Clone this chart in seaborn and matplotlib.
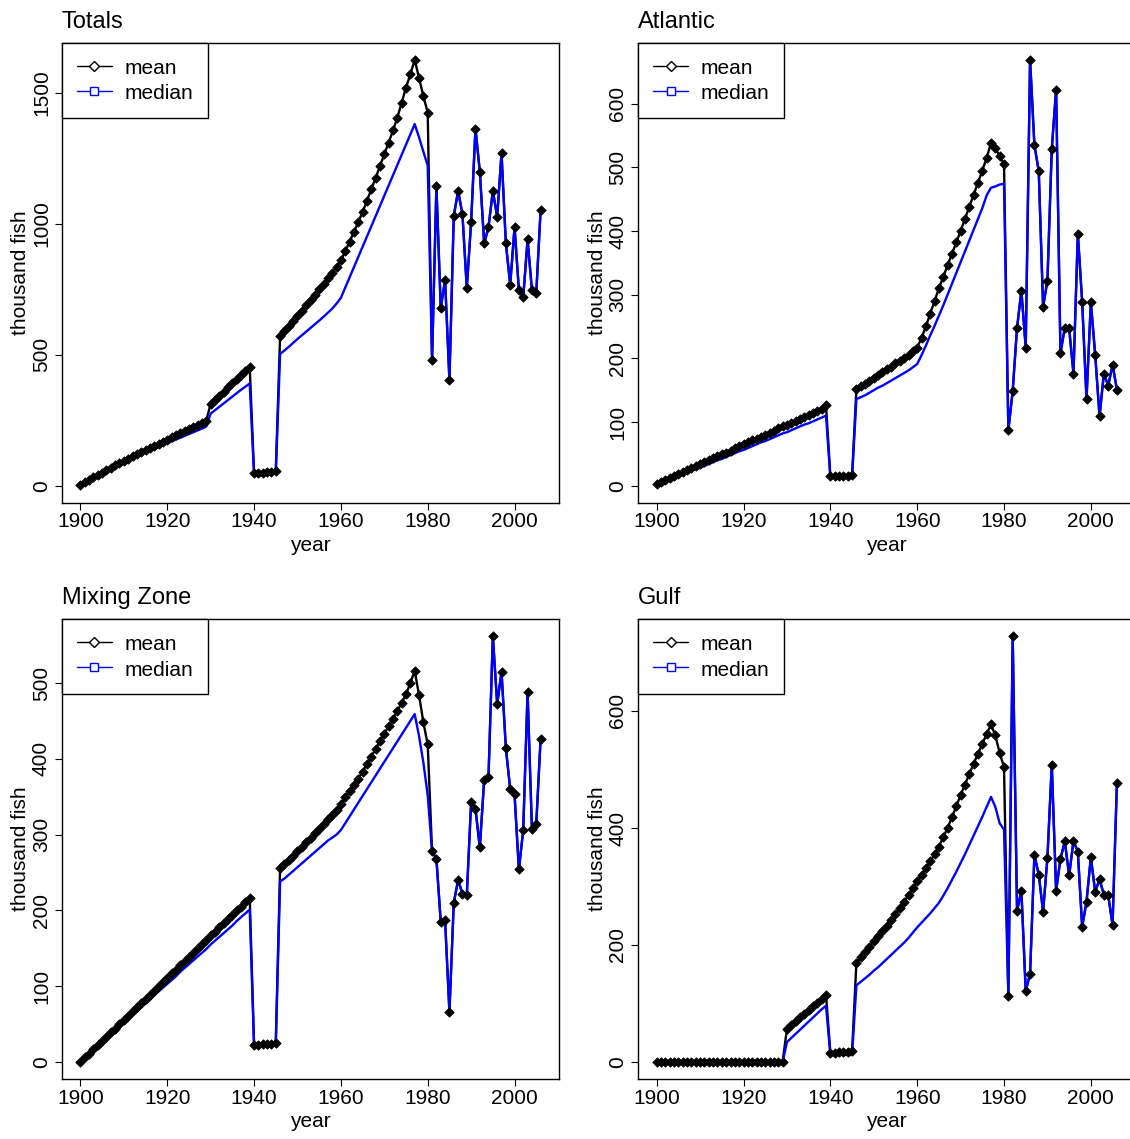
import matplotlib
matplotlib.use("Agg")
import matplotlib.pyplot as plt
from matplotlib.lines import Line2D
from matplotlib.ticker import MultipleLocator
import seaborn as sns

# years 1900-2006, one value per year
years = list(range(1900, 2007))

# 1900-1980 values differ between mean and median, 1981-2006 they coincide
totals_mean_early = [3, 13, 23, 32, 41, 50, 59, 68, 77, 86, 95, 103, 112, 120, 128,
                     136, 144, 152, 160, 168, 176, 184, 192, 200, 208, 216, 224, 232, 240, 248,
                     313, 328, 343, 359, 375, 391, 407, 423, 438, 453,
                     48, 50, 50, 51, 52, 55,
                     572, 591, 610, 629, 648, 668, 688, 708, 728, 749, 770, 791, 812, 835, 860,
                     895, 931, 968, 1006, 1045, 1088, 1131, 1175, 1220, 1265, 1310, 1356, 1405, 1462,
                     1520, 1570, 1626, 1557, 1487, 1424]
totals_median_early = [0, 11, 21, 30, 39, 48, 56, 64, 72, 80, 88, 96, 104, 112, 120,
                       127, 134, 141, 148, 155, 162, 169, 176, 183, 190, 197, 204, 211, 218, 226,
                       275, 288, 301, 314, 327, 340, 353, 366, 378, 390,
                       42, 43, 43, 44, 44, 46,
                       503, 516, 530, 545, 560, 574, 588, 602, 616, 630, 645, 660, 676, 695, 717,
                       756, 795, 834, 873, 912, 951, 990, 1029, 1068, 1107, 1146, 1185, 1224, 1263,
                       1302, 1341, 1380, 1330, 1275, 1222]
totals_late = [479, 1143, 679, 785, 403, 1030, 1125, 1036, 754, 1007, 1363, 1199, 925,
               987, 1125, 1026, 1269, 925, 767, 986, 748, 719, 940, 748, 735, 1051]

atlantic_mean_early = [3, 6, 9, 12, 15, 18, 21, 24, 28, 31, 34, 37, 40, 43, 46, 49, 52, 55, 59, 62,
                       65, 68, 71, 74, 77, 80, 83, 86, 90, 93, 96, 99, 102, 105, 108, 111, 114, 117, 121, 126,
                       15, 15, 15, 15, 15, 16,
                       152, 156, 160, 165, 169, 174, 178, 183, 187, 192, 196, 201, 206, 211, 217,
                       232, 250, 270, 290, 310, 328, 346, 364, 382, 400, 419, 438, 457, 476,
                       495, 515, 538, 530, 518, 505]
atlantic_median_early = [0, 3, 6, 9, 12, 14, 17, 20, 23, 26, 28, 31, 34, 37, 40, 42, 45, 48, 51, 54,
                         56, 59, 62, 65, 68, 70, 73, 76, 79, 82, 84, 87, 90, 93, 96, 98, 101, 104, 107, 110,
                         13, 13, 13, 13, 13, 13,
                         136, 139, 142, 146, 150, 154, 157, 161, 165, 169, 173, 177, 181, 186, 191,
                         205, 220, 236, 251, 267, 283, 300, 317, 334, 351, 368, 385, 402, 419,
                         436, 456, 468, 470, 473, 474]
atlantic_late = [87, 149, 248, 306, 217, 669, 535, 494, 281, 322, 529, 622, 208,
                 248, 247, 176, 396, 289, 136, 288, 206, 109, 176, 157, 190, 151]

mixing_mean_early = [0, 6, 11, 17, 22, 28, 33, 39, 44, 50, 56, 61, 67, 72, 78, 83, 89, 94, 100, 106,
                     111, 117, 122, 128, 133, 139, 144, 150, 155, 161, 167, 172, 178, 183, 189, 194, 200, 205, 211, 217,
                     23, 23, 24, 24, 24, 25,
                     256, 261, 267, 272, 278, 284, 290, 296, 302, 308, 314, 320, 326, 333, 341,
                     349, 357, 365, 374, 383, 393, 403, 413, 423, 433, 443, 453, 463, 474,
                     485, 500, 516, 484, 448, 419]
mixing_median_early = [0, 5, 10, 15, 21, 26, 31, 36, 41, 46, 52, 57, 62, 67, 72, 77, 82, 88, 93, 98,
                       103, 108, 113, 119, 124, 129, 134, 139, 144, 149, 155, 160, 165, 170, 175, 180, 186, 191, 196, 201,
                       21, 21, 22, 22, 22, 23,
                       238, 242, 247, 252, 257, 262, 267, 272, 277, 282, 287, 292, 296, 300, 306,
                       315, 324, 333, 342, 351, 360, 369, 378, 387, 396, 405, 414, 423, 432,
                       441, 450, 459, 430, 395, 352]
mixing_late = [278, 268, 185, 187, 66, 210, 240, 222, 220, 343, 334, 283, 372,
               376, 562, 472, 515, 414, 360, 353, 254, 306, 488, 308, 314, 426]

gulf_mean_early = [0] * 30 + [57, 63, 70, 76, 82, 89, 95, 101, 107, 114,
                              16, 16, 17, 17, 17, 18,
                              170, 179, 188, 197, 206, 215, 224, 233, 243, 253, 263, 274, 285, 297, 309,
                              320, 331, 343, 355, 368, 384, 400, 418, 437, 456, 474, 492, 510, 527,
                              544, 560, 577, 558, 528, 504]
gulf_median_early = [0] * 30 + [34, 41, 48, 55, 62, 69, 76, 83, 90, 96,
                                12, 12, 12, 12, 12, 12,
                                131, 137, 143, 149, 156, 162, 169, 176, 183, 190, 197, 204, 212, 221, 230,
                                238, 246, 254, 263, 272, 284, 297, 311, 325, 340, 355, 371, 387, 403,
                                419, 436, 453, 436, 408, 397]
gulf_late = [113, 728, 258, 293, 121, 151, 354, 320, 257, 349, 508, 293, 347,
             377, 319, 378, 359, 231, 274, 350, 291, 312, 286, 285, 234, 476]

panels = [
    ("Totals", totals_mean_early + totals_late, totals_median_early + totals_late, 500),
    ("Atlantic", atlantic_mean_early + atlantic_late, atlantic_median_early + atlantic_late, 100),
    ("Mixing Zone", mixing_mean_early + mixing_late, mixing_median_early + mixing_late, 100),
    ("Gulf", gulf_mean_early + gulf_late, gulf_median_early + gulf_late, 200),
]

sns.set_style("ticks")
plt.rcParams["font.family"] = ["Liberation Sans", "DejaVu Sans"]
plt.rcParams["text.color"] = "black"
plt.rcParams["axes.labelcolor"] = "black"
plt.rcParams["axes.titlecolor"] = "black"

W, H = 1130, 1139
fig = plt.figure(figsize=(W / 100, H / 100), dpi=100)

# axes boxes in pixels: left, top
boxes = [(62, 42.7), (638.3, 42.7), (62, 619), (638.3, 619)]
bw, bh = 497, 460


def draw_panel(ax, title, mean, median, step):
    sns.lineplot(x=years, y=mean, color="black", linewidth=1.7, ax=ax, zorder=2)
    sns.lineplot(x=years, y=median, color="blue", linewidth=1.7, ax=ax, zorder=3)
    sns.scatterplot(x=years, y=mean, marker="D", color="black", s=22,
                    edgecolor="black", linewidth=0.7, ax=ax, zorder=4)
    ax.margins(x=0.04, y=0.04)
    ax.yaxis.set_major_locator(MultipleLocator(step))
    ax.xaxis.set_major_locator(MultipleLocator(20))
    for sp in ax.spines.values():
        sp.set_visible(True)
        sp.set_linewidth(1.0)
        sp.set_color("black")
    ax.tick_params(length=5, width=0.8, labelsize=15, colors="black")
    ax.tick_params(axis="x", pad=2)
    ax.tick_params(axis="y", labelrotation=90, pad=3)
    for lab in ax.get_yticklabels():
        lab.set_verticalalignment("center")
    ax.set_xlabel("year", fontsize=15, labelpad=3)
    ax.set_ylabel("thousand fish", fontsize=15, labelpad=1)
    ax.set_title(title, loc="left", fontsize=17, pad=10.5)

    handles = [
        Line2D([], [], color="black", lw=1, marker="D", markersize=5,
               markerfacecolor="white", markeredgecolor="black"),
        Line2D([], [], color="blue", lw=1, marker="s", markersize=6,
               markerfacecolor="white", markeredgecolor="blue"),
    ]
    leg = ax.legend(handles, ["mean", "median"], loc="upper left", bbox_to_anchor=(0, 1),
                    borderaxespad=0, fancybox=False, edgecolor="black", framealpha=1,
                    fontsize=15, handlelength=1.7, handletextpad=0.6, borderpad=0.7,
                    handleheight=1.0, labelspacing=0.25)
    leg.get_frame().set_linewidth(1.0)


for (left, top), (title, mean, median, step) in zip(boxes, panels):
    ax = fig.add_axes([left / W, (H - top - bh) / H, bw / W, bh / H])
    draw_panel(ax, title, mean, median, step)

fig.savefig("out.png", dpi=100)
